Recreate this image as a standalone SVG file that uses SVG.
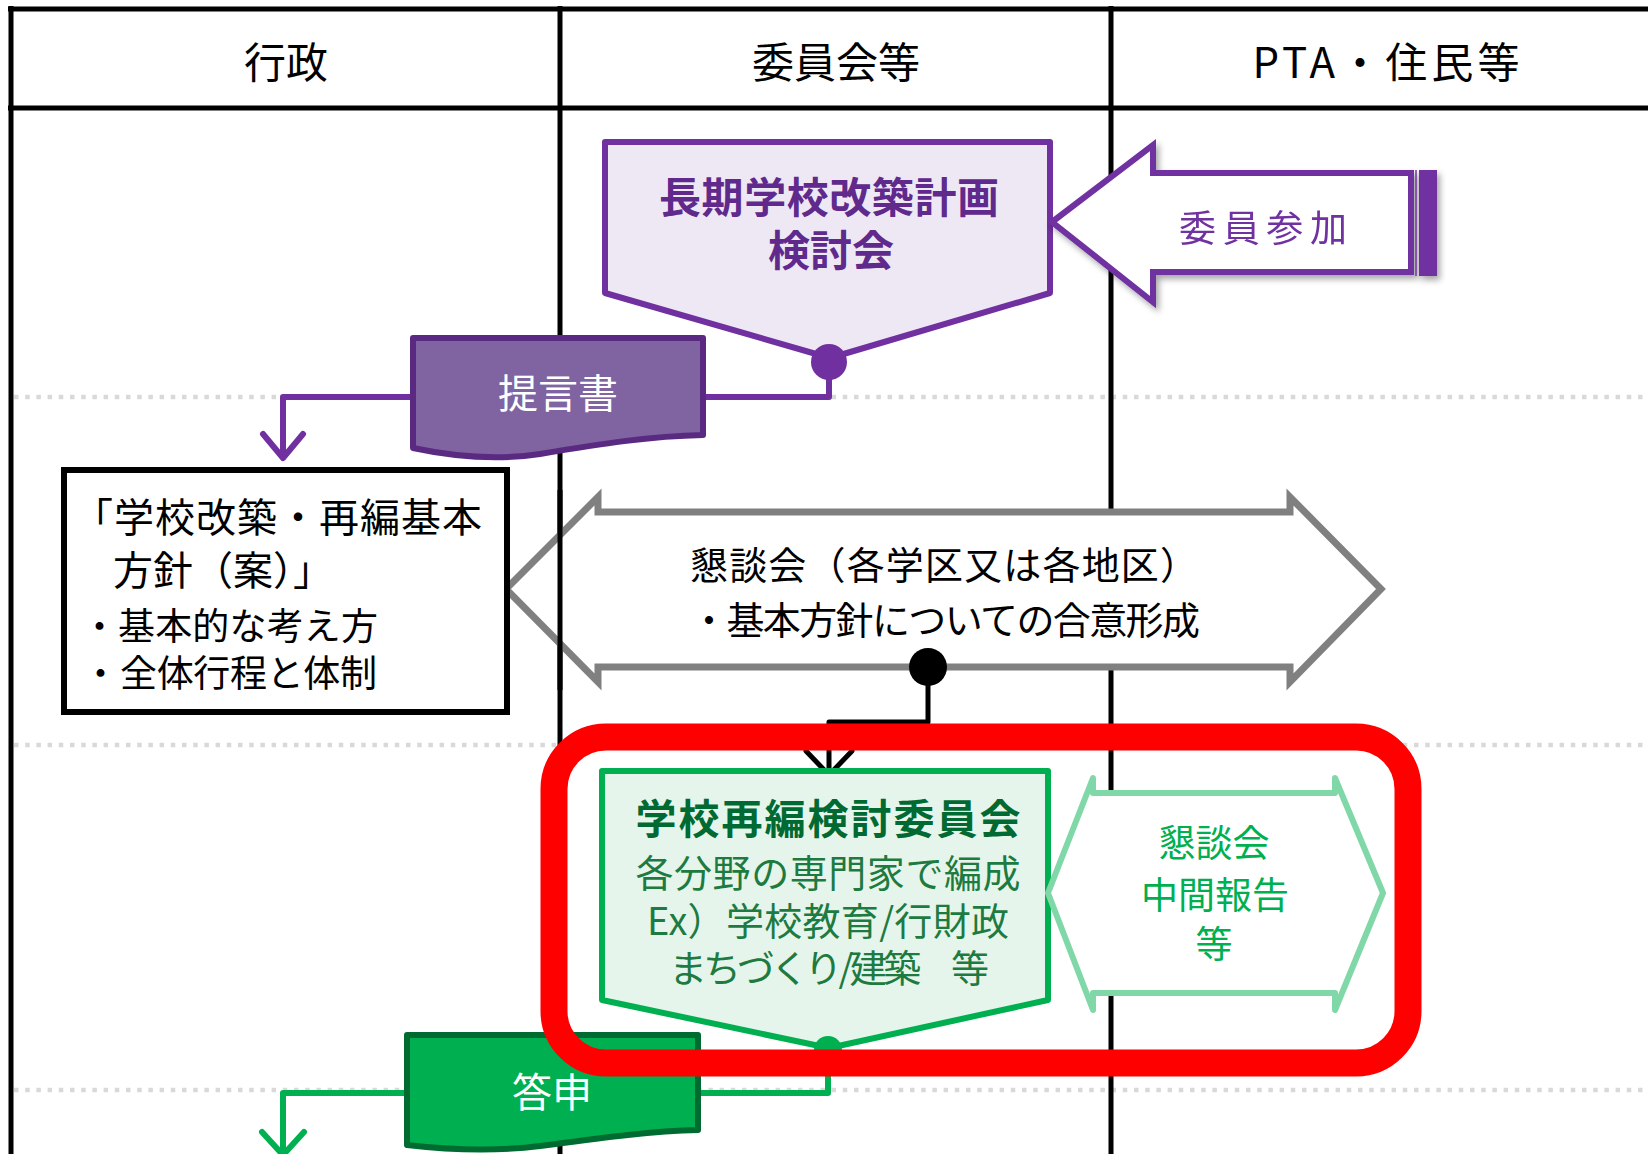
<svg xmlns="http://www.w3.org/2000/svg" width="1648" height="1154" viewBox="0 0 1648 1154">
<defs>
<style>
text{font-family:"Noto Sans CJK JP","Noto Sans",sans-serif;}
.grid{stroke:#000;stroke-width:5;fill:none;}
.dot{stroke:#d9d9d9;stroke-width:4.5;stroke-dasharray:4.5 6.7;fill:none;}
.hdr{font-size:42px;fill:#000;text-anchor:middle;}
.conn{fill:none;stroke-linecap:round;stroke-linejoin:round;}
</style>
<filter id="sh" x="-10%" y="-20%" width="130%" height="150%">
<feDropShadow dx="3" dy="4" stdDeviation="3" flood-color="#000" flood-opacity="0.35"/>
</filter>
</defs>
<rect width="1648" height="1154" fill="#fff"/>
<g id="lanes">
<line class="dot" x1="14" y1="397" x2="1648" y2="397"/>
<line class="dot" x1="14" y1="745" x2="1648" y2="745"/>
<line class="dot" x1="14" y1="1090" x2="1648" y2="1090"/>
<line class="grid" x1="8" y1="9" x2="1648" y2="9" stroke-width="6"/>
<line class="grid" x1="8" y1="108" x2="1648" y2="108" stroke-width="6"/>
<line class="grid" x1="11" y1="6" x2="11" y2="1154"/>
<line class="grid" x1="560" y1="6" x2="560" y2="1154"/>
<line class="grid" x1="1111" y1="6" x2="1111" y2="1154"/>
<text class="hdr" x="286" y="78">行政</text>
<text class="hdr" x="836" y="78">委員会等</text>
<text class="hdr" x="1386" y="78" textLength="267">PTA・住民等</text>
</g>
<g id="connectors" class="conn">
<path d="M829,362 V397 H283 V456" stroke="#7030A0" stroke-width="6"/>
<path d="M263,434 L283,458 L303,434" stroke="#7030A0" stroke-width="6"/>
<path d="M928,667 V722 H829 V773" stroke="#000" stroke-width="5"/>
<path d="M806,751 L829,775 L852,751" stroke="#000" stroke-width="5"/>
<path d="M828,1048 V1093 H283 V1152" stroke="#00B050" stroke-width="6"/>
<path d="M262,1132 L283,1155 L304,1132" stroke="#00B050" stroke-width="6"/>
</g>
<g id="kentoukai">
<polygon points="605,142 1050,142 1050,293 830,358 605,293" fill="#EEE8F5" stroke="#7030A0" stroke-width="6" stroke-linejoin="round"/>
<circle cx="829" cy="362" r="18" fill="#7030A0"/>
<text x="829" y="213" font-size="42" font-weight="bold" fill="#5F2A8C" text-anchor="middle" textLength="340">長期学校改築計画</text>
<text x="831" y="266" font-size="42" font-weight="bold" fill="#5F2A8C" text-anchor="middle">検討会</text>
</g>
<g id="iinsanka" filter="url(#sh)">
<polygon points="1052,222 1153,145 1153,173 1411,173 1411,272 1153,272 1153,302" fill="#fff" stroke="#7030A0" stroke-width="6" stroke-linejoin="miter"/>
<rect x="1419" y="170" width="18" height="106" fill="#7030A0"/>
<line x1="1416" y1="170" x2="1416" y2="276" stroke="#7030A0" stroke-width="1.5"/>
<text x="1263" y="242" font-size="37" fill="#7030A0" text-anchor="middle" textLength="168">委員参加</text>
</g>
<g id="teigensho">
<path d="M413,338 H703 V435 C650,436 600,444 540,454 C500,460 460,458 413,448 Z" fill="#8064A2" stroke="#5A2A82" stroke-width="6" stroke-linejoin="round"/>
<text x="558" y="408" font-size="40" fill="#fff" text-anchor="middle">提言書</text>
</g>
<g id="kondankai">
<polygon points="506,589 598,497 598,512 1290,512 1290,497 1381,589 1290,682 1290,667 598,667 598,682" fill="#fff" stroke="#808080" stroke-width="7" stroke-linejoin="miter"/>
<line x1="560" y1="490" x2="560" y2="690" stroke="#000" stroke-width="5"/>
<circle cx="928" cy="667" r="19" fill="#000"/>
<text x="690" y="579" font-size="38" fill="#000" textLength="508">懇談会（各学区又は各地区）</text>
<text x="690" y="634" font-size="38" fill="#000" textLength="510">・基本方針についての合意形成</text>
</g>
<g id="houshin">
<rect x="64" y="470" width="443" height="242" fill="#fff" stroke="#000" stroke-width="6"/>
<text x="73" y="532" font-size="40" fill="#000" textLength="409">「学校改築・再編基本</text>
<text x="113" y="585" font-size="40" fill="#000">方針（案）」</text>
<text y="640" font-size="37" fill="#000"><tspan x="81">・</tspan><tspan x="118" textLength="260">基本的な考え方</tspan></text>
<text y="687" font-size="37" fill="#000"><tspan x="82">・</tspan><tspan x="120" textLength="257">全体行程と体制</tspan></text>
</g>
<g id="saihen">
<polygon points="602,771 1048,771 1048,1000 829,1048 602,1000" fill="#E5F5EB" stroke="#00B050" stroke-width="6" stroke-linejoin="round"/>
<circle cx="828" cy="1050" r="14" fill="#00B050"/>
<text x="828" y="834" font-size="41" font-weight="bold" fill="#006A32" text-anchor="middle" textLength="385">学校再編検討委員会</text>
<text x="828" y="887" font-size="38" fill="#1D7A40" text-anchor="middle" textLength="385">各分野の専門家で編成</text>
<text x="828" y="935" font-size="38" fill="#1D7A40" text-anchor="middle" textLength="362">Ex）学校教育/行財政</text>
<text x="829" y="982" font-size="38" fill="#1D7A40" text-anchor="middle" textLength="320">まちづくり/建築　等</text>
</g>
<g id="chukan">
<polygon points="1048,893 1093,778 1093,793 1335,793 1335,778 1383,893 1335,1010 1335,993 1093,993 1093,1010" fill="#fff" stroke="#80D8A8" stroke-width="6" stroke-linejoin="round"/>
<text x="1214" y="857" font-size="37" fill="#00B050" text-anchor="middle">懇談会</text>
<text x="1215" y="909" font-size="37" fill="#00B050" text-anchor="middle">中間報告</text>
<text x="1214" y="958" font-size="37" fill="#00B050" text-anchor="middle">等</text>
</g>
<g id="toushin">
<path d="M407,1035 H698 V1130 C650,1131 600,1138 540,1146 C500,1151 450,1150 407,1145 Z" fill="#00B050" stroke="#006B30" stroke-width="6" stroke-linejoin="round"/>
<text x="552" y="1107" font-size="40" fill="#fff" text-anchor="middle">答申</text>
</g>
<g id="highlight">
<rect x="554" y="737" width="854" height="326" rx="52" ry="52" fill="none" stroke="#FF0000" stroke-width="27"/>
</g>
</svg>
